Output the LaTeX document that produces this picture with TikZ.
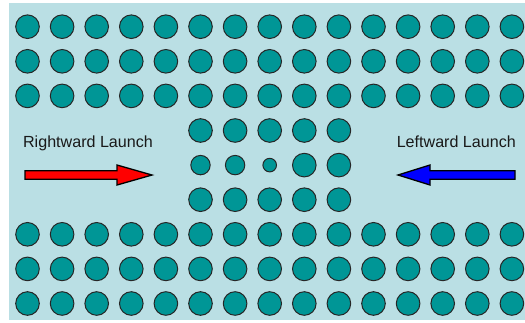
\documentclass[tikz,border=0pt]{standalone}
\usepackage{fontspec}
\setmainfont{Liberation Sans}
\definecolor{slabbg}{RGB}{186,223,228}
\definecolor{rodfill}{RGB}{0,150,150}

\newcommand*{\pitch}{34.6}
\newcommand*{\xo}{27.5}
\newcommand*{\yo}{26.7}

\begin{document}
\begin{tikzpicture}
[
	x=1pt,y=-1pt,
	rod/.style={circle,draw=black!85,fill=rodfill,line width=1pt,inner sep=0pt,minimum size=23.6pt},
	smallrod/.style={rod,minimum size=19.4pt},
	tinyrod/.style={rod,minimum size=13.6pt},
	launch/.style={anchor=base,font=\fontsize{16.1}{19}\selectfont,text=black!90},
	arrowbody/.style={draw=black,line width=1.3pt,line join=miter}
]

	\useasboundingbox (0,0) rectangle (525,322);

	% background
	\fill[slabbg] (9,3) rectangle (525,320);

	% upper and lower crystal
	\foreach \r in {0,1,2,6,7,8}
	  \foreach \c in {0,...,14}
	    \node[rod] (rod-\r-\c) at (\xo+\c*\pitch,\yo+\r*\pitch) {};

	% waveguide region
	\foreach \r in {3,5}
	  \foreach \c in {5,...,9}
	    \node[rod] (rod-\r-\c) at (\xo+\c*\pitch,\yo+\r*\pitch) {};
	\node[smallrod] (rod-4-5) at (\xo+5*\pitch,\yo+4*\pitch) {};
	\node[smallrod] (rod-4-6) at (\xo+6*\pitch,\yo+4*\pitch) {};
	\node[tinyrod] (rod-4-7) at (\xo+7*\pitch,\yo+4*\pitch) {};
	\node[rod] (rod-4-8) at (\xo+8*\pitch,\yo+4*\pitch) {};
	\node[rod] (rod-4-9) at (\xo+9*\pitch,\yo+4*\pitch) {};

	% launch arrows
	\node[launch] (rightlbl) at (88,147.7) {Rightward Launch};
	\node[launch] (leftlbl) at (456.3,147.7) {Leftward Launch};

	\filldraw[arrowbody,fill=red]
	  (25,170.7) -- (117,170.7) -- (117,165) -- (152,175)
	  -- (117,185) -- (117,179.3) -- (25,179.3) -- cycle;
	\filldraw[arrowbody,fill=blue]
	  (515,170.7) -- (430,170.7) -- (430,165) -- (398,175)
	  -- (430,185) -- (430,179.3) -- (515,179.3) -- cycle;

\end{tikzpicture}
\end{document}
